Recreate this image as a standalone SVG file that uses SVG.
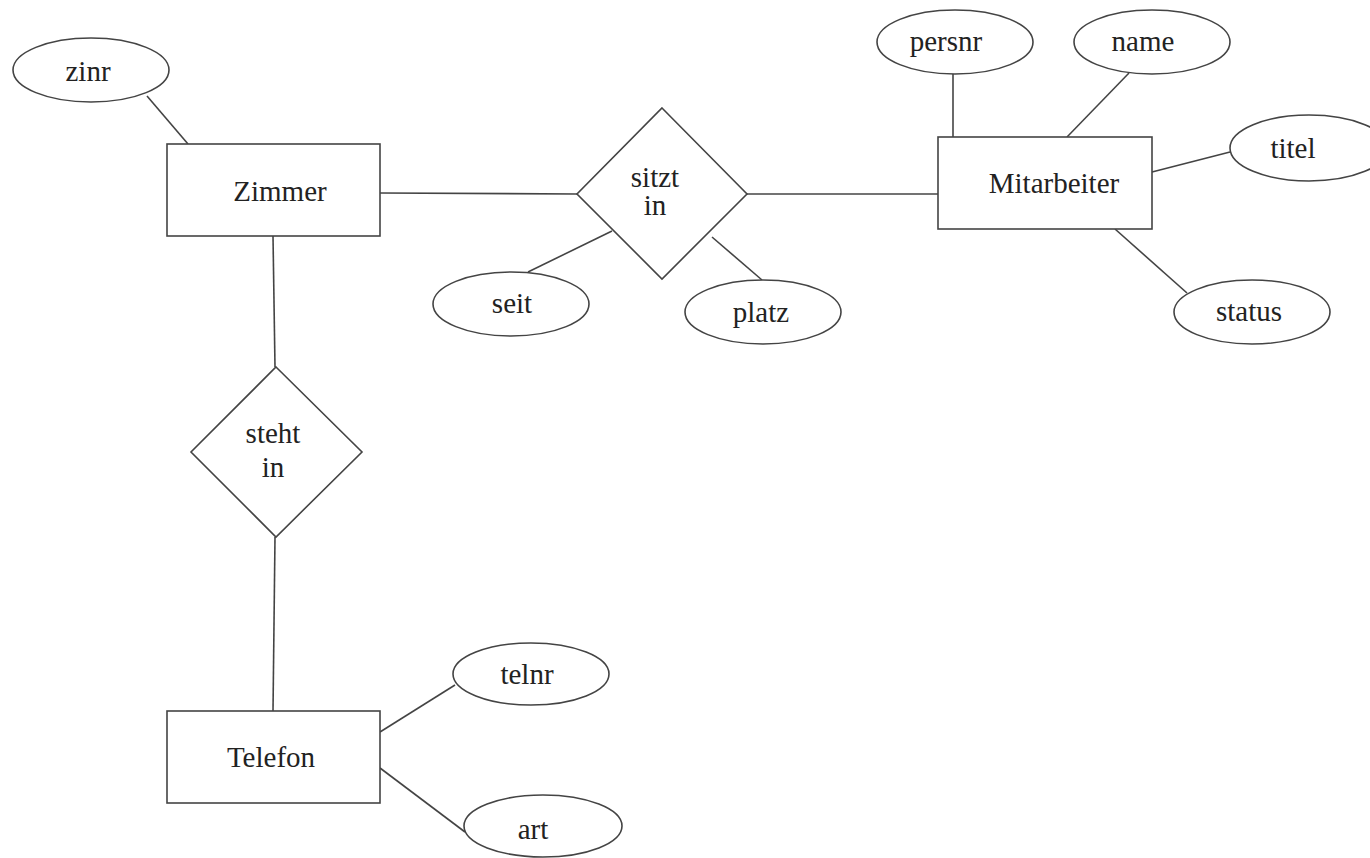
<svg xmlns="http://www.w3.org/2000/svg" width="1370" height="858" viewBox="0 0 1370 858">
<style>
.s{fill:#fff;stroke:#444;stroke-width:1.6}
.c line{stroke:#444;stroke-width:1.6}
text{font-family:"Liberation Serif","DejaVu Serif",serif;font-size:29px;fill:#222;text-anchor:middle}
</style>
<rect width="1370" height="858" fill="#fff"/>
<g class="c" id="connectors">
<line x1="147" y1="96" x2="188" y2="144"/>
<line x1="380" y1="193" x2="577" y2="194"/>
<line x1="747" y1="194" x2="938" y2="194"/>
<line x1="612" y1="231" x2="528" y2="272"/>
<line x1="712" y1="237" x2="762" y2="280"/>
<line x1="953" y1="74" x2="953" y2="137"/>
<line x1="1129" y1="73" x2="1067" y2="137"/>
<line x1="1152" y1="172" x2="1230" y2="152"/>
<line x1="1115" y1="229" x2="1187" y2="293"/>
<line x1="273" y1="236" x2="275" y2="367"/>
<line x1="275" y1="537" x2="273" y2="711"/>
<line x1="380" y1="732" x2="455" y2="685"/>
<line x1="380" y1="768" x2="465" y2="832"/>
</g>
<g id="zinr"><ellipse class="s" cx="91" cy="70" rx="78" ry="32"/><text x="88" y="81">zinr</text></g>
<g id="zimmer"><rect class="s" x="167" y="144" width="213" height="92"/><text x="280" y="201">Zimmer</text></g>
<g id="sitzt-in"><polygon class="s" points="662,108 747,194 662,279 577,194"/><text x="655" y="187">sitzt</text><text x="655" y="215">in</text></g>
<g id="seit"><ellipse class="s" cx="511" cy="304" rx="78" ry="32"/><text x="512" y="313">seit</text></g>
<g id="platz"><ellipse class="s" cx="763" cy="312" rx="78" ry="32"/><text x="761" y="322">platz</text></g>
<g id="mitarbeiter"><rect class="s" x="938" y="137" width="214" height="92"/><text x="1054" y="193">Mitarbeiter</text></g>
<g id="persnr"><ellipse class="s" cx="955" cy="42" rx="78" ry="32"/><text x="946" y="51">persnr</text></g>
<g id="name"><ellipse class="s" cx="1152" cy="42" rx="78" ry="32"/><text x="1143" y="51">name</text></g>
<g id="titel"><ellipse class="s" cx="1309" cy="148" rx="79" ry="33"/><text x="1293" y="158">titel</text></g>
<g id="status"><ellipse class="s" cx="1252" cy="312" rx="78" ry="32"/><text x="1249" y="321">status</text></g>
<g id="steht-in"><polygon class="s" points="276,367 362,452 276,537 191,452"/><text x="273" y="443">steht</text><text x="273" y="477">in</text></g>
<g id="telefon"><rect class="s" x="167" y="711" width="213" height="92"/><text x="271" y="767">Telefon</text></g>
<g id="telnr"><ellipse class="s" cx="531" cy="674" rx="78" ry="31"/><text x="527" y="684">telnr</text></g>
<g id="art"><ellipse class="s" cx="543" cy="826" rx="79" ry="31"/><text x="533" y="839">art</text></g>
</svg>
